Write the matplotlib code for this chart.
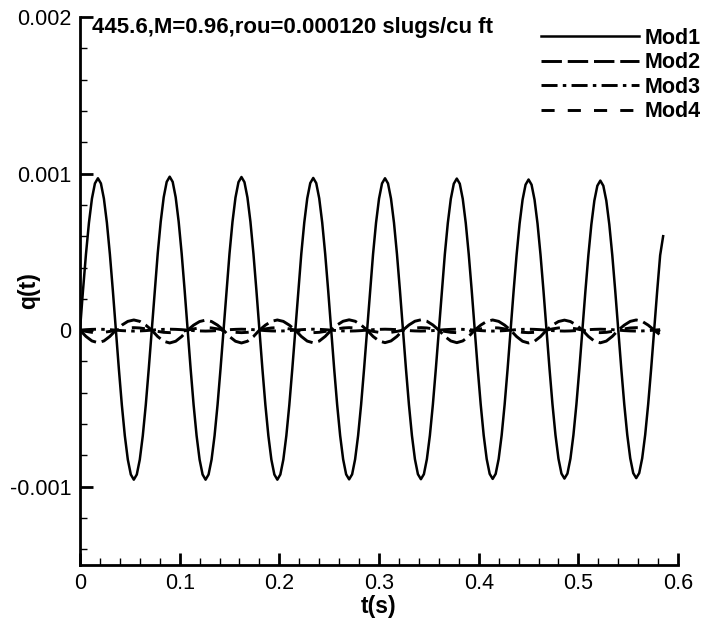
import numpy as np
import matplotlib
matplotlib.use("Agg")
import matplotlib.pyplot as plt
from matplotlib.ticker import MultipleLocator, FixedLocator

# ---------------- data (values in units of 1e-6) ----------------
dt1 = 0.003
mod1_micro = [
    0, 251, 485, 686, 840, 937, 970, 937, 840, 686, 485, 251,
    0, -247, -478, -675, -827, -922, -955, -922, -827, -675, -478, -247,
    0, 254, 490, 693, 849, 947, 980, 947, 849, 693, 490, 254,
    0, -247, -478, -675, -827, -922, -955, -922, -827, -675, -478, -247,
    0, 253, 489, 692, 847, 945, 978, 945, 847, 692, 489, 253,
    0, -247, -478, -675, -827, -922, -955, -922, -827, -675, -478, -247,
    0, 252, 486, 687, 842, 939, 972, 939, 842, 687, 486, 252,
    0, -247, -477, -674, -825, -921, -953, -921, -825, -674, -477, -247,
    0, 251, 485, 686, 840, 937, 970, 937, 840, 686, 485, 251,
    0, -246, -476, -673, -824, -920, -952, -920, -824, -673, -476, -246,
    0, 251, 484, 684, 838, 935, 968, 935, 838, 684, 484, 251,
    0, -246, -475, -672, -823, -918, -950, -918, -823, -672, -475, -246,
    0, 249, 481, 680, 833, 929, 962, 929, 833, 680, 481, 249,
    0, -245, -474, -670, -821, -916, -948, -916, -821, -670, -474, -245,
    0, 247, 478, 675, 827, 922, 955, 922, 827, 675, 478, 247,
    0, -245, -473, -668, -818, -913, -945, -913, -818, -668, -473, -245,
    0, 247, 478, 600,
]

dt2 = 0.006
mod2_micro = [
    0, -40, -69, -80, -69, -40, 0, 32, 56, 65, 56, 32,
    0, -41, -71, -82, -71, -41, 0, 32, 55, 64, 55, 32,
    0, -41, -71, -82, -71, -41, 0, 32, 56, 65, 56, 32,
    0, -40, -70, -81, -70, -40, 0, 33, 57, 66, 57, 33,
    0, -40, -69, -80, -69, -40, 0, 33, 57, 66, 57, 33,
    0, -40, -69, -80, -69, -40, 0, 32, 56, 65, 56, 32,
    0, -41, -71, -82, -71, -41, 0, 32, 55, 64, 55, 32,
    0, -40, -70, -81, -70, -40, 0, 32, 56, 65, 56, 32,
    0, -30,
]
mod3_micro = [
    0, 3, 5, 6, 5, 3, 0, -3, -5, -6, -5, -3,
    0, 3, 5, 6, 5, 3, 0, -3, -5, -6, -5, -3,
    0, 3, 5, 6, 5, 3, 0, -3, -5, -6, -5, -3,
    0, 3, 5, 6, 5, 3, 0, -3, -5, -6, -5, -3,
    0, 3, 5, 6, 5, 3, 0, -3, -5, -6, -5, -3,
    0, 3, 5, 6, 5, 3, 0, -3, -5, -6, -5, -3,
    0, 3, 5, 6, 5, 3, 0, -3, -5, -6, -5, -3,
    0, 3, 5, 6, 5, 3, 0, -3, -5, -6, -5, -3,
    0, 3,
]
mod4_micro = [
    0, -8, -14, -16, -14, -8, 0, 8, 14, 16, 14, 8,
    0, -8, -14, -16, -14, -8, 0, 8, 14, 16, 14, 8,
    0, -8, -14, -16, -14, -8, 0, 8, 14, 16, 14, 8,
    0, -8, -14, -16, -14, -8, 0, 8, 14, 16, 14, 8,
    0, -8, -14, -16, -14, -8, 0, 8, 14, 16, 14, 8,
    0, -8, -14, -16, -14, -8, 0, 8, 14, 16, 14, 8,
    0, -8, -14, -16, -14, -8, 0, 8, 14, 16, 14, 8,
    0, -8, -14, -16, -14, -8, 0, 8, 14, 16, 14, 8,
    0, -8,
]

series_names = ["Mod1", "Mod2", "Mod3", "Mod4"]
title_text = "445.6,M=0.96,rou=0.000120 slugs/cu ft"
x_ticks = [0, 0.1, 0.2, 0.3, 0.4, 0.5, 0.6]
x_ticklabels = ["0", "0.1", "0.2", "0.3", "0.4", "0.5", "0.6"]
y_ticks = [-0.001, 0, 0.001, 0.002]
y_ticklabels = ["-0.001", "0", "0.001", "0.002"]

# ---------------- plotting ----------------
plt.rcParams['font.family'] = ['Liberation Sans', 'DejaVu Sans']

t1 = np.arange(len(mod1_micro)) * dt1
t2 = np.arange(len(mod2_micro)) * dt2
q1 = np.array(mod1_micro) * 1e-6
q2 = np.array(mod2_micro) * 1e-6
q3 = np.array(mod3_micro) * 1e-6
q4 = np.array(mod4_micro) * 1e-6

fig = plt.figure(figsize=(7.09, 6.20), dpi=100)
ax = fig.add_axes([0.1128, 0.0887, 0.8436, 0.8839])

lw = 1.8
ax.plot(t1, q1, color='black', lw=lw, ls='-', label=series_names[0])
ax.plot(t2, q2, color='black', lw=lw + 0.3, ls=(0, (7, 2)), label=series_names[1])
ax.plot(t2, q3, color='black', lw=lw + 0.3, ls=(0, (5.5, 1.8, 1.2, 1.8)), label=series_names[2])
ax.plot(t2, q4, color='black', lw=lw + 0.3, ls=(0, (4.5, 4.5)), label=series_names[3])

ax.set_xlim(0, 0.6)
ax.set_ylim(-0.0015, 0.002)

ax.spines['top'].set_visible(False)
ax.spines['right'].set_visible(False)
ax.spines['left'].set_linewidth(2.0)
ax.spines['bottom'].set_linewidth(2.0)

ax.xaxis.set_major_locator(FixedLocator(x_ticks))
ax.set_xticklabels(x_ticklabels)
ax.yaxis.set_major_locator(FixedLocator(y_ticks))
ax.set_yticklabels(y_ticklabels)
ax.xaxis.set_minor_locator(MultipleLocator(0.02))
ax.yaxis.set_minor_locator(MultipleLocator(0.0002))
ax.tick_params(which='major', direction='in', length=9, width=2.0, labelsize=15.5, pad=6)
ax.tick_params(which='minor', direction='in', length=5, width=1.0)

ax.set_xlabel("t(s)", fontsize=16.5, fontweight='bold')
ax.set_ylabel("q(t)", fontsize=16.5, fontweight='bold')
ax.xaxis.set_label_coords(0.5, -0.054)
ax.yaxis.set_label_coords(-0.066, 0.5)

fig.text(92 / 709, 1 - 33 / 620, title_text, fontsize=16,
         fontweight='bold', ha='left', va='baseline')

leg = ax.legend(loc='upper right', bbox_to_anchor=(0.988, 0.955),
                bbox_transform=fig.transFigure, frameon=False,
                prop={'weight': 'bold', 'size': 15.5}, handlelength=4.55,
                labelspacing=0.16, handletextpad=0.25, borderaxespad=0,
                borderpad=0)

fig.savefig("out.png", dpi=100)
